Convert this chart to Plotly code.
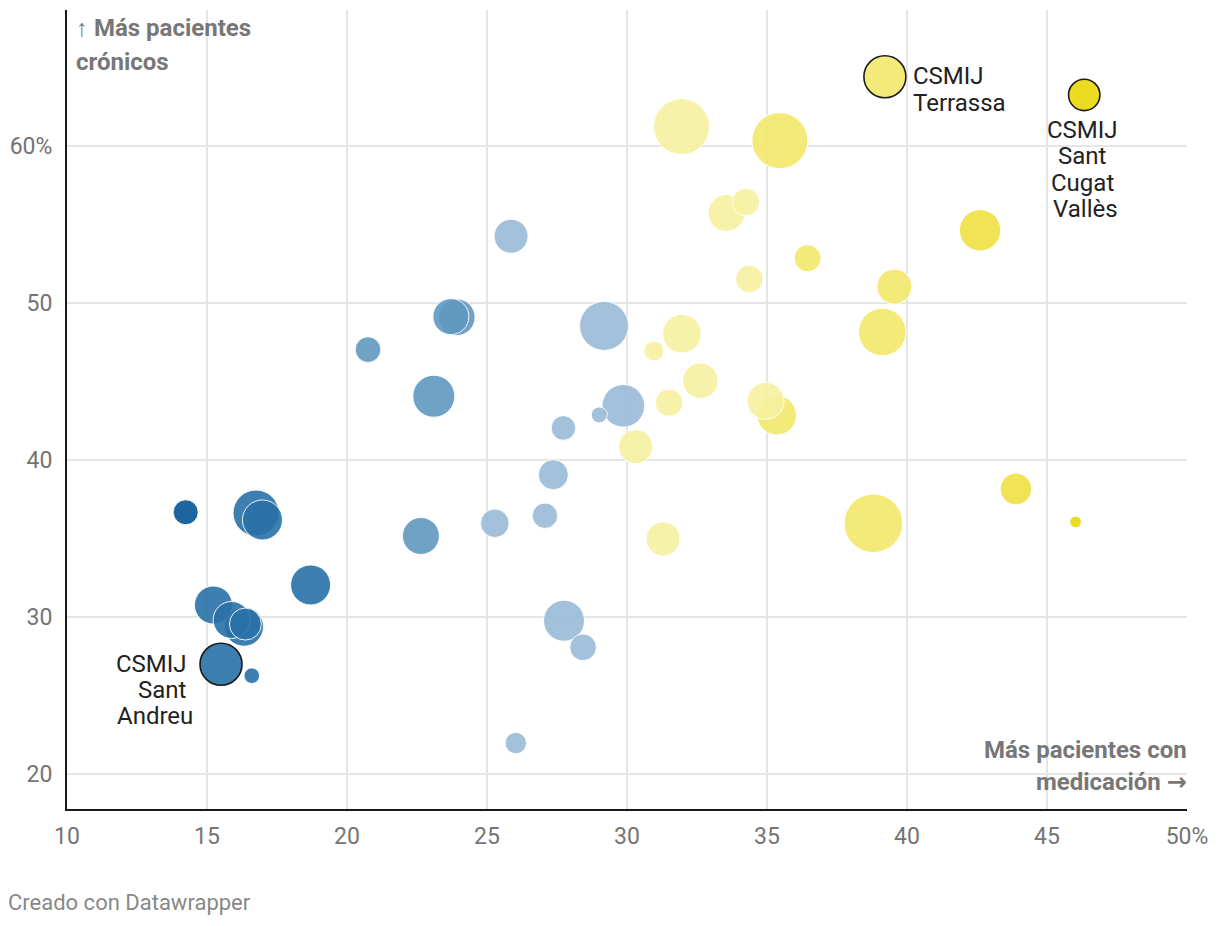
import math
import plotly.graph_objects as go

# ---- data ----
medicacion = [14.24, 16.75, 16.98, 15.23, 15.88, 16.32, 16.37, 15.50, 16.60, 18.70,
              20.75, 23.92, 23.71, 23.10, 22.64,
              25.86, 29.18, 29.87, 29.01, 27.73, 27.37, 27.07, 25.28, 27.75, 28.43, 26.03,
              31.95, 33.55, 34.25, 34.37, 31.96, 30.96, 32.62, 31.50, 30.31, 34.95, 31.29,
              35.46, 36.45, 39.55, 39.12, 35.35, 38.80, 39.21,
              42.61, 43.89, 46.33, 46.02]
cronicos = [36.67, 36.62, 36.18, 30.76, 29.81, 29.38, 29.55, 26.99, 26.26, 32.04,
            47.03, 49.09, 49.13, 44.06, 35.16,
            54.25, 48.54, 43.45, 42.87, 42.04, 39.06, 36.45, 35.97, 29.76, 28.07, 21.97,
            61.23, 55.73, 56.43, 51.53, 48.04, 46.94, 45.05, 43.65, 40.85, 43.76, 34.97,
            60.34, 52.85, 51.04, 48.15, 42.85, 35.97, 64.41,
            54.63, 38.15, 63.25, 36.05]
pacientes = [156, 529, 400, 361, 342, 380, 256, 441, 61, 400,
             164, 335, 324, 441, 342,
             289, 600, 454, 64, 151, 225, 161, 204, 420, 177, 114,
             784, 335, 188, 188, 372, 100, 313, 188, 289, 342, 289,
             784, 182, 306, 566, 388, 858, 441,
             428, 250, 246, 34]
etiqueta = ["", "", "", "", "", "", "", "CSMIJ\nSant\nAndreu", "", "",
            "", "", "", "", "",
            "", "", "", "", "", "", "", "", "", "", "",
            "", "", "", "", "", "", "", "", "", "", "",
            "", "", "", "", "", "", "CSMIJ\nTerrassa",
            "", "", "CSMIJ\nSant\nCugat\nVallès", ""]

x_ticks = [10, 15, 20, 25, 30, 35, 40, 45, 50]
x_ticktext = ["10", "15", "20", "25", "30", "35", "40", "45", "50%"]
y_ticks = [20, 30, 40, 50, 60]
y_ticktext = ["20", "30", "40", "50", "60%"]

# ---- styles ----
bin_edges = [15, 20, 25, 30, 35, 40, 45]
bin_colors = ["#1b669f", "#3e7fb2", "#70a2c6", "#a3c1da",
              "#f7f2aa", "#f4ea7b", "#f0e355", "#ebdb22"]
ALPHA = 0.9


def rgba_for(hexcol, a=ALPHA):
    r, g, b = (int(hexcol[i:i + 2], 16) for i in (1, 3, 5))
    f = lambda c: max(0, min(255, round((c - (1 - a) * 255) / a)))
    return f"rgba({f(r)},{f(g)},{f(b)},{a})"


def color_for(x):
    i = sum(1 for e in bin_edges if x >= e)
    return rgba_for(bin_colors[i])


order = sorted(range(len(medicacion)), key=lambda i: -pacientes[i])
xs = [medicacion[i] for i in order]
ys = [cronicos[i] for i in order]
diam = [2 * math.sqrt(pacientes[i]) for i in order]
cols = [color_for(medicacion[i]) for i in order]
lcol = ["#1a1a1a" if etiqueta[i] else "rgba(255,255,255,0.9)" for i in order]
lwid = [1.6 if etiqueta[i] else 1.0 for i in order]

fig = go.Figure()
fig.add_trace(go.Scatter(
    x=xs, y=ys, mode="markers",
    marker=dict(size=diam, sizemode="diameter", color=cols, opacity=1,
                line=dict(color=lcol, width=lwid)),
    hoverinfo="skip", showlegend=False,
))

FONT = "Roboto, 'Noto Sans', sans-serif"
LINE_H = 26.3
annotations = []
# point labels: one annotation per line (tighter line height than plotly's default)
label_layout = {
    "CSMIJ\nTerrassa": dict(xanchor="left", dx=[26, 26], first=0.5),
    "CSMIJ\nSant\nCugat\nVallès": dict(xanchor="center", dx=[-2, -2, -2, 1], first=-35),
    "CSMIJ\nSant\nAndreu": dict(xanchor="right", dx=[-32, -32, -26], first=0.5),
}
for i, t in enumerate(etiqueta):
    if not t:
        continue
    cfg = label_layout[t]
    for k, line in enumerate(t.split("\n")):
        annotations.append(dict(x=medicacion[i], y=cronicos[i], xref="x", yref="y", text=line,
                                showarrow=False, xanchor=cfg["xanchor"], yanchor="middle",
                                xshift=cfg["dx"][k], yshift=cfg["first"] - k * LINE_H,
                                font=dict(family=FONT, size=24, color="#222222")))

ARROW = "<span style=\"font-family:'DejaVu Sans';font-weight:bold\">{}</span>"
title_font = dict(family=FONT, size=24, color="#777777", weight="bold")
for txt, yy in [("↑ Más pacientes", 0.9775), ("crónicos", 0.9353)]:
    annotations.append(dict(x=0.006, y=yy, xref="paper", yref="paper", text=txt, showarrow=False,
                            xanchor="left", yanchor="middle", font=title_font))
for txt, yy in [("Más pacientes con", 0.0738), ("medicación " + ARROW.format("→"), 0.0342)]:
    annotations.append(dict(x=1.002, y=yy, xref="paper", yref="paper", text=txt, showarrow=False,
                            xanchor="right", yanchor="middle", font=title_font))
annotations.append(dict(x=-0.0545, y=-0.1176, xref="paper", yref="paper",
                        text="Creado con Datawrapper", showarrow=False,
                        xanchor="left", yanchor="middle",
                        font=dict(family=FONT, size=22, color="#888888")))

axis_common = dict(showgrid=True, gridcolor="#e5e5e5", gridwidth=1.5, zeroline=False,
                   showline=True, linecolor="#1a1a1a", linewidth=2, ticks="",
                   tickfont=dict(family=FONT, size=23, color="#747474"), fixedrange=True)

fig.update_layout(
    width=1220, height=926,
    margin=dict(l=67, r=33, t=10, b=117),
    paper_bgcolor="white", plot_bgcolor="white",
    font=dict(family=FONT),
    xaxis=dict(range=[10, 50], tickvals=x_ticks, ticktext=x_ticktext,
               ticklabelstandoff=5, **axis_common),
    yaxis=dict(range=[17.77, 68.66], tickvals=y_ticks, ticktext=y_ticktext,
               ticklabelstandoff=8, **axis_common),
    annotations=annotations,
)

fig.write_html("out.html", config={"displayModeBar": False},
               post_script="document.body.style.margin='0';document.body.style.overflow='hidden';")
